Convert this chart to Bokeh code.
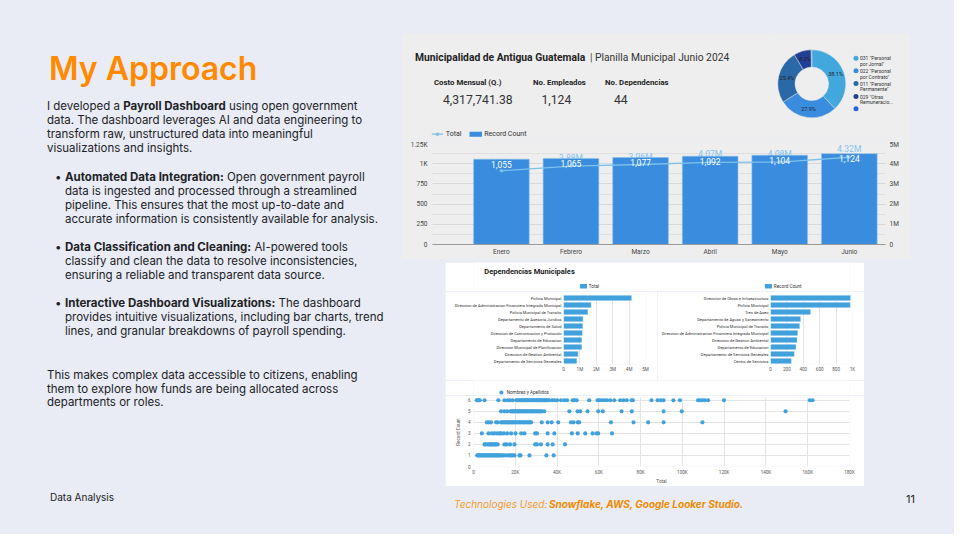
import math
from bokeh.plotting import figure
from bokeh.layouts import row, column
from bokeh.models import (Div, Spacer, Range1d, LinearAxis, FixedTicker, ColumnDataSource,
                          FactorRange)
from bokeh.embed import file_html
from bokeh.resources import INLINE
from bokeh.core.properties import value

# ---------------- data ----------------
months = ["Enero", "Febrero", "Marzo", "Abril", "Mayo", "Junio"]
record_count = [1055, 1065, 1077, 1092, 1104, 1124]
monthly_total = [3650000, 3880000, 3960000, 4070000, 4080000, 4320000]
total_labels = ["3.65M", "3.88M", "3.96M", "4.07M", "4.08M", "4.32M"]
count_labels = ["1,055", "1,065", "1,077", "1,092", "1,104", "1,124"]
left_ticks = [0, 250, 500, 750, 1000, 1250]
left_tick_labels = ["0", "250", "500", "750", "1K", "1.25K"]
right_ticks = [0, 1000000, 2000000, 3000000, 4000000, 5000000]
right_tick_labels = ["0", "1M", "2M", "3M", "4M", "5M"]

kpi_names = ["Costo Mensual (Q.)", "No. Empleados", "No. Dependencias"]
kpi_values = ["4,317,741.38", "1,124", "44"]

pie_line1 = ['031 "Personal', '022 "Personal', '011 "Personal', '029 "Otras', '']
pie_line2 = ['por Jornal"', 'por Contrato"', 'Permanente"', 'Remuneracio...', '']
pie_share = [38.1, 27.9, 25.4, 8.3, 0.3]
pie_text = ["38.1%", "27.9%", "25.4%", "8.3%", ""]

dept_total_names = ["Policia Municipal",
                    "Direccion de Administracion Financiera Integrada Municipal",
                    "Policia Municipal de Transito", "Departamento de Asesoria Juridica",
                    "Departamento de Salud", "Direccion de Comunicacion y Protocolo",
                    "Departamento de Educacion", "Direccion Municipal de Planificacion",
                    "Direccion de Gestion Ambiental", "Departamento de Servicios Generales"]
dept_total_values = [4160000, 1690000, 1490000, 1200000, 1180000, 1160000, 1120000, 1120000,
                     900000, 820000]
total_ticks = [0, 1000000, 2000000, 3000000, 4000000, 5000000]
total_tick_labels = ["0", "1M", "2M", "3M", "4M", "5M"]

dept_count_names = ["Direccion de Obras e Infraestructura", "Policia Municipal", "Tren de Aseo",
                    "Departamento de Aguas y Saneamiento", "Policia Municipal de Transito",
                    "Direccion de Administracion Financiera Integrada Municipal",
                    "Direccion de Gestion Ambiental", "Departamento de Educacion",
                    "Departamento de Servicios Generales", "Centro de Servicios"]
dept_count_values = [978, 975, 491, 369, 357, 333, 325, 312, 292, 256]
count_ticks = [0, 200, 400, 600, 800, 1000]
count_tick_labels = ["0", "200", "400", "600", "800", "1K"]

# scatter: total (thousands of Q.) per person, grouped by record count
s6 = [1.6, 2.0, 2.5, 3.0, 5.3, 11.9, 14.8, 16.4, 17.5, 18.8, 20.6, 21.0, 21.7, 22.1, 22.6, 23.0,
      23.5, 23.9, 24.5, 24.8, 25.4, 25.8, 26.1, 26.7, 27.3, 27.6, 28.2, 28.7, 29.1, 29.5, 30.0,
      30.6, 31.0, 31.3, 31.9, 32.4, 32.8, 33.3, 33.7, 34.2, 34.6, 35.1, 35.6, 36.2, 37.6, 38.7,
      40.0, 41.9, 43.5, 44.8, 47.5, 48.3, 49.4, 55.4, 59.4, 60.2, 61.3, 62.6, 63.9, 65.5, 67.4,
      70.2, 71.8, 73.4, 75.7, 76.3, 85.2, 88.1, 89.7, 91.0, 95.7, 98.8, 107.5, 108.5, 109.6,
      110.7, 112.3, 119.9, 161.0, 162.3]
s5 = [13.2, 14.8, 16.1, 17.7, 18.3, 18.8, 19.4, 19.9, 20.5, 21.1, 21.6, 22.0, 22.7, 23.2, 23.8,
      24.3, 25.0, 25.4, 26.1, 26.6, 27.3, 27.9, 28.4, 29.0, 29.6, 30.3, 30.8, 31.5, 32.1, 32.8,
      33.9, 45.9, 49.8, 51.1, 54.6, 59.7, 61.9, 70.9, 75.8, 91.0, 99.7, 149.4]
s4 = [6.4, 7.3, 8.4, 10.8, 11.6, 13.2, 13.8, 14.5, 15.1, 15.6, 16.3, 16.8, 17.5, 18.2, 18.7, 19.3,
      19.9, 20.6, 21.2, 22.0, 22.6, 23.3, 23.9, 24.6, 25.2, 25.9, 26.5, 27.0, 27.6, 32.7, 35.5,
      37.4, 40.6, 46.7, 47.9, 49.9, 50.6, 65.8, 76.6, 83.6, 91.0, 109.6]
s3 = [4.0, 7.2, 8.8, 10.0, 11.3, 12.4, 13.2, 14.5, 16.1, 18.0, 20.1, 22.8, 24.4, 29.5, 30.4, 35.5,
      38.7, 47.1, 49.9, 53.5, 57.0, 58.9, 59.7, 66.3]
s2 = [5.3, 5.7, 6.8, 7.6, 8.1, 8.7, 9.2, 9.8, 10.3, 10.9, 11.6, 14.8, 15.9, 17.5, 19.6, 29.5, 30.4,
      32.3, 35.5, 37.9, 43.8]
s1 = [1.8, 2.3, 2.7, 3.2, 3.8, 4.3, 4.9, 5.4, 6.0, 6.5, 7.1, 7.7, 8.2, 8.8, 9.3, 9.9, 10.5, 11.0,
      11.6, 12.1, 12.7, 13.2, 14.0, 14.8, 16.1, 17.2, 18.0, 18.8, 19.6, 22.0, 22.5, 26.8, 34.9,
      38.4]
scatter_groups = [(1, s1), (2, s2), (3, s3), (4, s4), (5, s5), (6, s6)]
scatter_xticks = [0, 20, 40, 60, 80, 100, 120, 140, 160, 180]
scatter_xlabels = ["0", "20K", "40K", "60K", "80K", "100K", "120K", "140K", "160K", "180K"]
scatter_yticks = [0, 1, 2, 3, 4, 5, 6]

# ---------------- styles ----------------
BG = "#e9ecf4"
PANEL = "#eeeeee"
ORANGE = "#ff8a00"
BLUE = "#3a8dde"
LBLUE = "#41a1dc"
LINE = "#7cc1ea"
PIE_COLORS = ["#41a7dc", "#3a8dde", "#2a68a8", "#213f95", "#2c62e0"]
RB = value("Roboto")
INTER = value("Inter")


def canvas(x0, y0, x1, y1, bg):
    """A blank drawing area whose coordinates are slide pixels."""
    p = figure(width=int(x1 - x0), height=int(y1 - y0), x_range=Range1d(x0, x1),
               y_range=Range1d(-y1, -y0), output_backend="svg", toolbar_location=None,
               x_axis_type=None, y_axis_type=None, min_border=0,
               background_fill_color=bg, border_fill_color=bg, outline_line_color=None)
    return p


def txt(p, x, y, s, size, color="#222222", style="normal", font=RB, align="left"):
    p.text(x=[x], y=[-y], text=[s], text_font=font, text_font_size=size, text_font_style=style,
           text_color=color, text_align=align, text_baseline="middle")


def style_axis(ax, size, color="#555555", standoff=3):
    ax.axis_line_color = None
    ax.major_tick_line_color = None
    ax.minor_tick_line_color = None
    ax.major_tick_out = 0
    ax.major_tick_in = 0
    ax.minor_tick_out = 0
    ax.minor_tick_in = 0
    ax.major_label_text_font = "Roboto"
    ax.major_label_text_font_size = size
    ax.major_label_text_color = color
    ax.major_label_standoff = standoff


# ---------------- left text column ----------------
body = "font-size:11.5px;line-height:14px;white-space:nowrap;position:absolute;"
para1 = ("I developed a <b>Payroll Dashboard</b> using open government<br>"
         "data. The dashboard leverages AI and data engineering to<br>"
         "transform raw, unstructured data into meaningful<br>visualizations and insights.")
bullets = [
    ("<b>Automated Data Integration:</b> Open government payroll<br>"
     "data is ingested and processed through a streamlined<br>"
     "pipeline. This ensures that the most up-to-date and<br>"
     "accurate information is consistently available for analysis.", 165),
    ("<b>Data Classification and Cleaning:</b> AI-powered tools<br>"
     "classify and clean the data to resolve inconsistencies,<br>"
     "ensuring a reliable and transparent data source.", 235),
    ("<b>Interactive Dashboard Visualizations:</b> The dashboard<br>"
     "provides intuitive visualizations, including bar charts, trend<br>"
     "lines, and granular breakdowns of payroll spending.", 291),
]
para2 = ("This makes complex data accessible to citizens, enabling<br>"
         "them to explore how funds are being allocated across<br>departments or roles.")

html = ['<div style="position:relative;width:392px;height:524px;font-family:Inter,sans-serif;'
        'color:#202126;">',
        f'<div style="position:absolute;left:44px;top:48px;font-size:32px;line-height:32px;'
        f'font-weight:600;color:{ORANGE};white-space:nowrap;">My Approach</div>',
        f'<div style="{body}left:42px;top:94px;">{para1}</div>']
for t, top in bullets:
    html.append(f'<div style="{body}left:50px;top:{top}px;">&bull;</div>')
    html.append(f'<div style="{body}left:60px;top:{top}px;">{t}</div>')
html.append(f'<div style="{body}left:42px;top:364px;line-height:13.7px;">{para2}</div>')
html.append('<div style="position:absolute;left:45px;top:486px;font-size:10px;line-height:12px;'
            'white-space:nowrap;">Data Analysis</div>')
html.append('</div>')
left_div = Div(text="".join(html), width=392, height=524, styles={"background-color": BG})

# ---------------- top panel header (title, KPIs, legend of bar chart) ----------------
hdr = canvas(400, 33, 770, 140, PANEL)
txt(hdr, 412.5, 57.3, "Municipalidad de Antigua Guatemala", "10.3px", "#222222", "bold")
txt(hdr, 587.5, 57.3, "|", "10.3px", "#444444")
txt(hdr, 592.5, 57.3, "Planilla Municipal Junio 2024", "10.3px", "#333333")
for name, val, xl, xv in zip(kpi_names, kpi_values, [431.5, 530.5, 602.5], [440.5, 539, 611.5]):
    txt(hdr, xl, 81.7, name, "7.8px", "#222222", "bold")
    txt(hdr, xv, 99.3, val, "12.2px", "#333333")
# legend of the monthly chart
hdr.line(x=[429.3, 440.7], y=[-133.7, -133.7], line_color=LINE, line_width=1.3)
hdr.scatter(x=[435], y=[-133.7], size=3.5, fill_color=LINE, line_color=None)
txt(hdr, 443.3, 133.7, "Total", "7px", "#333333")
hdr.quad(left=[467], right=[479.5], bottom=[-136.3], top=[-131.3], fill_color=BLUE,
         line_color=None)
txt(hdr, 481.7, 133.7, "Record Count", "7px", "#333333")

# donut
dn = canvas(770, 33, 908, 140, PANEL)
cum = [0]
for s in pie_share:
    cum.append(cum[-1] + s)
tot = cum[-1]
starts = [math.pi / 2 - 2 * math.pi * c / tot for c in cum[:-1]]
ends = [math.pi / 2 - 2 * math.pi * c / tot for c in cum[1:]]
mids = [(a + b) / 2 for a, b in zip(starts, ends)]
cx, cy = 809.3, -83.3
psrc = ColumnDataSource(dict(start=starts, end=ends, color=PIE_COLORS,
                             lx=[cx + 25.5 * math.cos(m) for m in mids],
                             ly=[cy + 25.5 * math.sin(m) for m in mids], lab=pie_text))
dn.annular_wedge(x=cx, y=cy, inner_radius=16.8, outer_radius=34, start_angle="start",
                 end_angle="end", direction="clock", fill_color="color", line_color=PANEL,
                 line_width=0.4, source=psrc)
dn.text(x="lx", y="ly", text="lab", source=psrc, text_font=RB, text_font_size="5.5px",
        text_color="#222222", text_align="center", text_baseline="middle")
leg_y = [57.7, 70.2, 83.0, 96.0, 108.3]
dn.scatter(x=[853.5] * 5, y=[-v for v in leg_y], size=5, fill_color=PIE_COLORS, line_color=None)
for l1, l2, yy in zip(pie_line1, pie_line2, leg_y):
    txt(dn, 857.5, yy, l1, "5px", "#333333")
    txt(dn, 857.5, yy + 5.8, l2, "5px", "#333333")

# ---------------- top bar chart ----------------
idx = list(range(len(months)))
src = ColumnDataSource(dict(x=idx, count=record_count, total=monthly_total,
                            clab=count_labels, tlab=total_labels))
pb = figure(width=508, height=119, x_range=Range1d(-0.99, 5.52), y_range=Range1d(0, 1250),
            output_backend="svg", toolbar_location=None, min_border_left=30,
            min_border_right=25, min_border_top=3, min_border_bottom=15,
            background_fill_color=PANEL, border_fill_color=PANEL, outline_line_color=None)
pb.extra_y_ranges = {"tot": Range1d(0, 5000000)}
pb.xaxis.ticker = FixedTicker(ticks=idx)
pb.xaxis.major_label_overrides = {i: m for i, m in enumerate(months)}
style_axis(pb.xaxis[0], "6.5px", "#444444", 3)
pb.xaxis.axis_line_color = "#9a9a9a"
pb.xgrid.visible = False
yt = FixedTicker(ticks=left_ticks, minor_ticks=[125, 375, 625, 875, 1125])
pb.yaxis.ticker = yt
pb.ygrid.ticker = yt
pb.yaxis.major_label_overrides = dict(zip(left_ticks, left_tick_labels))
style_axis(pb.yaxis[0], "6.5px", "#444444", 5)
pb.ygrid.grid_line_color = "#d8d8d8"
pb.ygrid.minor_grid_line_color = "#e0e0e0"
axr = LinearAxis(y_range_name="tot", ticker=FixedTicker(ticks=right_ticks),
                 major_label_overrides=dict(zip(right_ticks, right_tick_labels)))
style_axis(axr, "6.5px", "#444444", 4)
pb.add_layout(axr, "right")
pb.text(x="x", y="total", text="tlab", y_range_name="tot", source=src, text_color="#86c5ec",
        text_font=RB, text_font_size="8.5px", text_align="center", text_baseline="middle",
        y_offset=-8)
pb.vbar(x="x", top="count", width=0.8, source=src, fill_color=BLUE,
        line_color="#8cc0ee", line_width=0.6)
pb.line(x="x", y="total", y_range_name="tot", source=src, line_color=LINE, line_width=1.3)
pb.scatter(x="x", y="total", y_range_name="tot", source=src, size=3.5,
           fill_color=LINE, line_color=None)
pb.text(x="x", y="count", text="clab", source=src, text_color="white", text_font=RB,
        text_font_size="8.5px", text_align="center", text_baseline="middle", y_offset=5)


# ---------------- bottom panel ----------------
def hbar_fig(names, vals, width, mb_left, x_end, ticks, tlabels):
    cats = names[::-1]
    p = figure(width=width, height=89, y_range=FactorRange(factors=cats),
               x_range=Range1d(0, x_end), output_backend="svg", toolbar_location=None,
               min_border_left=mb_left, min_border_right=12, min_border_top=3,
               min_border_bottom=16, background_fill_color="white",
               border_fill_color="white", outline_line_color=None)
    s = ColumnDataSource(dict(y=cats, v=vals[::-1]))
    p.hbar(y="y", right="v", height=0.8, source=s, fill_color=LBLUE, line_color="white",
           line_width=0.4)
    p.xaxis.ticker = FixedTicker(ticks=ticks)
    p.xaxis.major_label_overrides = dict(zip(ticks, tlabels))
    style_axis(p.xaxis[0], "4.6px", "#555555", 2)
    style_axis(p.yaxis[0], "4.05px", "#333333", 2)
    p.ygrid.visible = False
    p.xgrid.grid_line_color = "#e4e4e4"
    return p


# title + legends strip
tl = canvas(443, 262, 862, 291, "white")
txt(tl, 455, 270.7, "Dependencias Municipales", "7.5px", "#222222", "bold")
tl.quad(left=[561.7, 767.7], right=[569.5, 775.5], bottom=[-288, -288], top=[-283.5, -283.5],
        fill_color=LBLUE, line_color=None)
txt(tl, 571.5, 285.8, "Total", "4.6px", "#333333")
txt(tl, 777.7, 285.8, "Record Count", "4.6px", "#333333")

hb_l = hbar_fig(dept_total_names, dept_total_values, 212, 118, 5000000, total_ticks,
                total_tick_labels)
hb_r = hbar_fig(dept_count_names, dept_count_values, 207, 113, 1000, count_ticks,
                count_tick_labels)

# scatter legend strip
sl = canvas(443, 380, 862, 395, "white")
sl.scatter(x=[474], y=[-392], size=4.2, fill_color=LBLUE, line_color=None)
txt(sl, 480, 392, "Nombres y Apellidos", "4.6px", "#333333")

ps = figure(width=419, height=91, x_range=Range1d(0, 180), y_range=Range1d(0, 6.25),
            output_backend="svg", toolbar_location=None, min_border_left=28,
            min_border_right=15, min_border_top=2, min_border_bottom=16,
            background_fill_color="white", border_fill_color="white", outline_line_color=None)
xs, ys = [], []
for rc, vals in scatter_groups:
    xs += vals
    ys += [rc] * len(vals)
ps.scatter(x=xs, y=ys, size=4.2, fill_color=LBLUE, line_color=None)
ps.xaxis.ticker = FixedTicker(ticks=scatter_xticks)
ps.xaxis.major_label_overrides = dict(zip(scatter_xticks, scatter_xlabels))
ps.yaxis.ticker = FixedTicker(ticks=scatter_yticks)
ps.xaxis.axis_label = "Total"
ps.yaxis.axis_label = "Record Count"
for ax in [ps.xaxis[0], ps.yaxis[0]]:
    style_axis(ax, "4.6px", "#555555", 3)
    ax.axis_label_text_font = "Roboto"
    ax.axis_label_text_font_size = "4.6px"
    ax.axis_label_text_font_style = "normal"
    ax.axis_label_text_color = "#555555"
ps.xaxis.axis_label_standoff = 1
ps.yaxis.axis_label_standoff = 4
ps.xgrid.grid_line_color = "#e4e4e4"
ps.ygrid.grid_line_color = "#e4e4e4"

# ---------------- footer ----------------
ft = canvas(400, 486, 952, 524, BG)
txt(ft, 451.5, 503.5, "Technologies Used:", "10px", "#f39b2e", "italic", INTER)
txt(ft, 546.5, 503.5, "Snowflake, AWS, Google Looker Studio.", "10px", "#f08a00",
    "bold italic", INTER)
txt(ft, 903.5, 498.5, "11", "11px", "#222222", "normal", INTER)

# ---------------- layout ----------------
top_panel = column(row(hdr, dn), pb)
bottom_panel = column(tl, row(hb_l, hb_r), sl, ps)
right_col = column(
    Spacer(width=552, height=33),
    row(top_panel, Spacer(width=44, height=226)),
    Spacer(width=552, height=3),
    row(Spacer(width=43, height=224), bottom_panel, Spacer(width=90, height=224)),
    ft,
)
page = row(left_div, right_col, styles={"background-color": BG})

open("out.html", "w").write(file_html(page, INLINE))
